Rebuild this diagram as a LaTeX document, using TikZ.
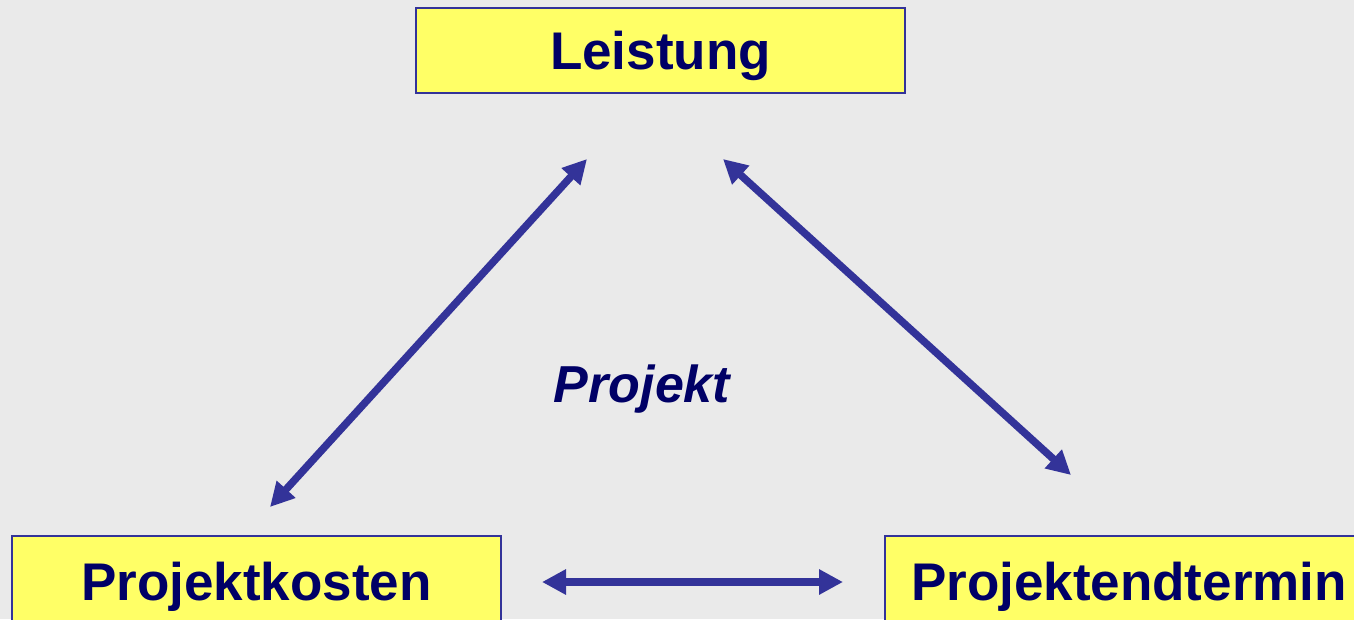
\documentclass[tikz,border=0pt]{standalone}
\usepackage{fontspec}
\setmainfont{Liberation Sans}
\usetikzlibrary{arrows.meta}
\definecolor{bg}{HTML}{EAEAEA}
\definecolor{boxfill}{HTML}{FFFF66}
\definecolor{boxline}{HTML}{333399}
\definecolor{txt}{HTML}{000066}
\definecolor{arr}{HTML}{333399}
\begin{document}
\begin{tikzpicture}[x=1pt,y=-1pt,
  box/.style={draw=boxline, line width=2pt, fill=boxfill, minimum width=489pt,
    minimum height=85pt, inner sep=0pt, text height=38pt, text depth=0pt,
    font=\fontsize{53}{60}\selectfont\bfseries, text=txt},
  link/.style={draw=arr, line width=7.5pt,
    {Triangle[length=24pt,width=24pt]}-{Triangle[length=24pt,width=24pt]}}]
\useasboundingbox (0,0) rectangle (1354,619);
\fill[bg] (0,0) rectangle (1354,619);
\clip (0,0) rectangle (1354,619);
\node[box] (L) at (660.5,50.5) {Leistung};
\node[box, minimum height=90pt] (K) at (256.5,581) {Projektkosten};
\node[box, minimum height=90pt] (T) at (1129,581) {Projektendtermin};
\node[font=\fontsize{52}{60}\selectfont\bfseries\itshape, text=txt, inner sep=0pt, anchor=base] (P) at (642,402) {Projekt};
\coordinate (a1) at (270,507);
\coordinate (a2) at (587,159);
\coordinate (b1) at (723,159);
\coordinate (b2) at (1071,475);
\coordinate (c1) at (542,582);
\coordinate (c2) at (843,582);
\draw[link] (a1) -- (a2);
\draw[link] (b1) -- (b2);
\draw[link] (c1) -- (c2);
\end{tikzpicture}
\end{document}
